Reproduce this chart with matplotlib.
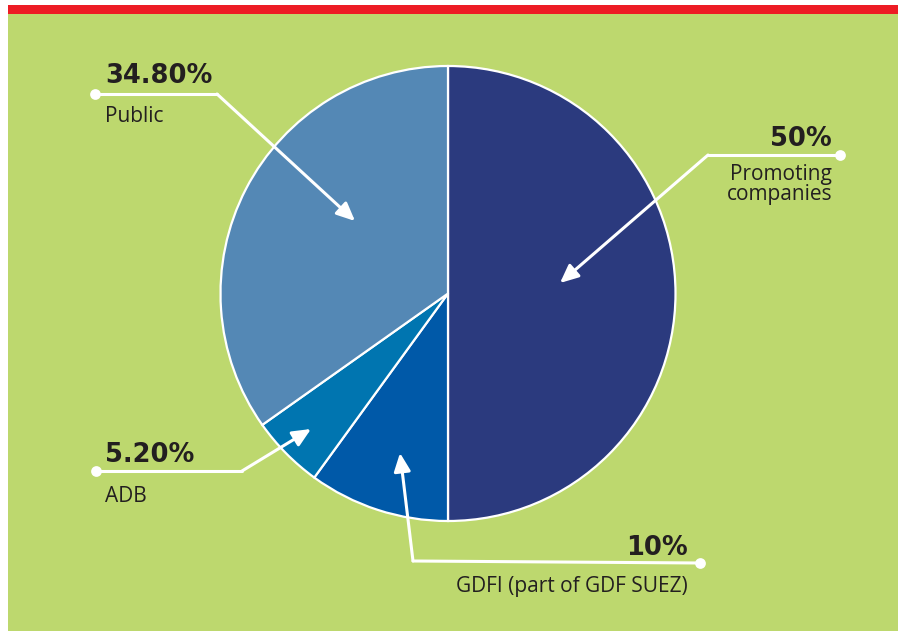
import matplotlib
matplotlib.use("Agg")
import matplotlib.pyplot as plt
from matplotlib.patches import Rectangle

# Data
categories = ["Promoting\ncompanies", "GDFI (part of GDF SUEZ)", "ADB", "Public"]
shares = [50.0, 10.0, 5.2, 34.8]
pct_labels = ["50%", "10%", "5.20%", "34.80%"]
colors = ["#2B3A7E", "#0059A8", "#0075B0", "#5488B5"]

W, H = 898, 631
fig = plt.figure(figsize=(W / 100, H / 100), dpi=100, facecolor="white")
ax = fig.add_axes([0, 0, 1, 1])
ax.set_axis_off()

# background
ax.add_patch(Rectangle((8, 14), W - 8, H - 14, facecolor="#BDD86E", edgecolor="none", zorder=0))
ax.add_patch(Rectangle((8, 5), W - 8, 9, facecolor="#ED1C24", edgecolor="none", zorder=0))

cx, cy, r = 448, 293.5, 227.5
ax.pie(shares, colors=colors, startangle=-90, counterclock=True, center=(cx, cy), radius=r,
       wedgeprops=dict(edgecolor="white", linewidth=1.6), frame=False)
ax.set_xlim(0, W)
ax.set_ylim(H, 0)
ax.set_aspect("equal")
ax.set_axis_off()

# leader lines: (dot, elbow, tip)
leaders = [
    ((840, 155), (708, 155), (560, 283)),
    ((700, 563), (413, 561), (400, 453)),
    ((96, 471), (242, 471), (311, 429)),
    ((95, 94), (217, 94), (355, 221)),
]
for dot, elbow, tip in leaders:
    ax.plot([dot[0], elbow[0]], [dot[1], elbow[1]], color="white", lw=2.2, solid_capstyle="round", zorder=5)
    ax.annotate("", xy=tip, xytext=elbow,
                arrowprops=dict(arrowstyle="-|>,head_length=1.1,head_width=0.5", color="white", lw=2.2,
                                shrinkA=0, shrinkB=0), zorder=5)
    ax.scatter([dot[0]], [dot[1]], s=60, color="white", zorder=6, linewidths=0)

txt = "#231F20"
bfam = ["DejaVu Sans"]
rfam = ["Open Sans", "DejaVu Sans"]
bold_size = 18.5
reg_size = 15
def pct(x, y, s, ha):
    ax.text(x, y, s, ha=ha, va="baseline", fontsize=bold_size, fontweight="bold", color=txt, family=bfam)
def lab(x, y, s, ha):
    ax.text(x, y, s, ha=ha, va="baseline", fontsize=reg_size, fontweight="medium", color=txt, family=rfam)

# Promoting companies (right aligned)
pct(832, 146, pct_labels[0], "right")
lines = categories[0].split("\n")
lab(832, 180, lines[0], "right")
lab(832, 200, lines[1], "right")
# GDFI
pct(688, 555, pct_labels[1], "right")
lab(688, 592, categories[1], "right")
# ADB
pct(105, 462, pct_labels[2], "left")
lab(105, 502, categories[2], "left")
# Public
pct(105, 83, pct_labels[3], "left")
lab(105, 122, categories[3], "left")

fig.savefig("out.png", dpi=100, facecolor="white")
